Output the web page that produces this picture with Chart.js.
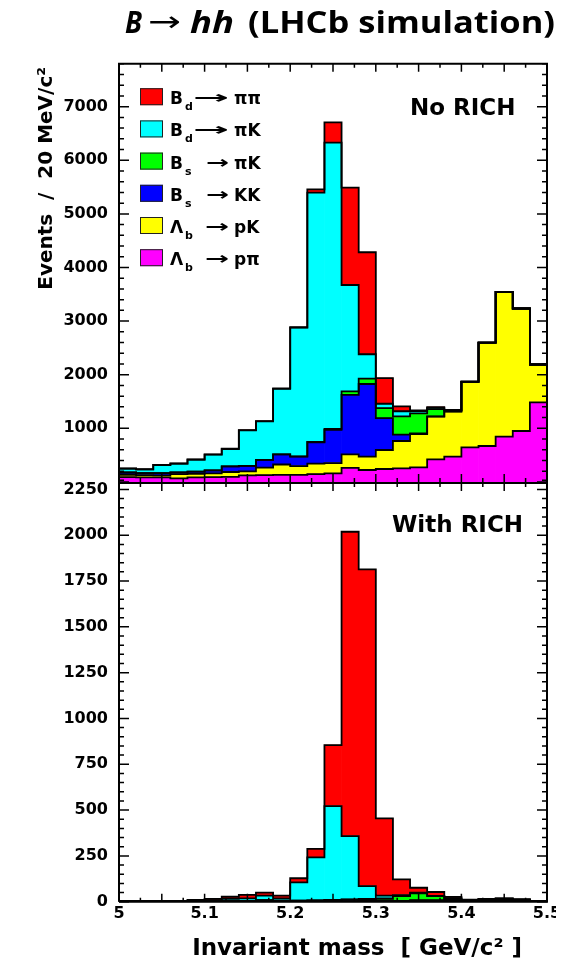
<!DOCTYPE html>
<html>
<head>
<meta charset="utf-8">
<script src="https://cdn.jsdelivr.net/npm/chart.js@4/dist/chart.umd.min.js"></script>
<style>
  html, body { margin: 0; padding: 0; background: #fff; }
  #wrap { position: relative; width: 572px; height: 960px; overflow: hidden; }
  canvas { position: absolute; left: 0; top: 0; }
</style>
</head>
<body>
<div id="wrap">
  <canvas id="upper" width="572" height="960"></canvas>
  <canvas id="lower" width="556" height="960"></canvas>
</div>
<script>
// ---- binning: 20 MeV/c^2 bins from 5.00 to 5.50 GeV/c^2 ----
const binCentres = [5.01, 5.03, 5.05, 5.07, 5.09, 5.11, 5.13, 5.15, 5.17, 5.19,
                    5.21, 5.23, 5.25, 5.27, 5.29, 5.31, 5.33, 5.35, 5.37, 5.39,
                    5.41, 5.43, 5.45, 5.47, 5.49];
const halfBin = 0.01;
const binEdges = binCentres.map(c => +(c - halfBin).toFixed(2))
  .concat([+(binCentres[binCentres.length - 1] + halfBin).toFixed(2)]);

// ---- decay channels (legend order) ----
const decayParent    = ['B', 'B', 'B', 'B', 'Λ', 'Λ'];
const decayParentSub = ['d', 'd', 's', 's', 'b', 'b'];
const decayProducts  = ['ππ', 'πK', 'πK', 'KK', 'pK', 'pπ'];

// ---- events per bin, no RICH particle ID ----
const noRichBdPiPi = [3, 2, 3, 3, 4, 5, 5, 5, 6, 9, 8, 63, 381, 1816, 1903, 478, 90, 15, 15, 3, 0, 0, 0, 0, 0];
const noRichBdPiK  = [72, 69, 150, 163, 224, 292, 323, 661, 719, 1221, 2402, 4651, 5339, 1985, 456, 82, 94, 40, 21, 8, 0, 0, 0, 0, 0];
const noRichBsPiK  = [0, 0, 0, 0, 0, 0, 0, 0, 0, 0, 5, 5, 20, 63, 99, 186, 341, 373, 138, 15, 5, 0, 0, 0, 0];
const noRichBsKK   = [45, 40, 45, 32, 40, 55, 105, 105, 145, 190, 175, 400, 619, 1113, 1356, 595, 120, 13, 5, 5, 0, 0, 0, 0, 0];
const noRichLbPK   = [40, 40, 35, 80, 65, 70, 90, 75, 140, 195, 165, 195, 190, 250, 248, 354, 510, 622, 795, 839, 1220, 1930, 2701, 2285, 705];
const noRichLbPPi  = [90, 85, 85, 65, 85, 90, 95, 120, 125, 130, 130, 145, 160, 262, 222, 241, 253, 272, 421, 471, 645, 670, 844, 950, 1485];

// ---- events per bin, with RICH particle ID ----
const withRichBdPiPi = [2, 2, 2, 2, 4, 6, 12, 19, 16, 15, 22, 46, 333, 1661, 1729, 422, 86, 27, 21, 6, 2, 2, 2, 2, 1];
const withRichBdPiK  = [1, 1, 1, 1, 4, 6, 12, 13, 25, 12, 100, 235, 512, 345, 70, 15, 6, 3, 2, 3, 0, 0, 0, 0, 0];
const withRichBsPiK  = [0, 0, 0, 0, 0, 0, 0, 0, 0, 0, 0, 0, 0, 2, 5, 10, 25, 38, 22, 5, 2, 2, 2, 0, 0];
const withRichBsKK   = [0, 0, 0, 0, 0, 1, 1, 2, 3, 2, 3, 4, 5, 8, 6, 5, 3, 2, 2, 3, 0, 0, 0, 0, 0];
const withRichLbPK   = [0, 0, 0, 0, 1, 1, 1, 2, 2, 2, 2, 2, 3, 1, 1, 1, 1, 3, 3, 5, 4, 6, 6, 6, 2];
const withRichLbPPi  = [1, 1, 1, 1, 1, 1, 1, 1, 3, 2, 1, 1, 2, 2, 3, 2, 1, 3, 3, 4, 3, 5, 8, 5, 2];

// ---- axis ticks ----
const upperYTickValues = [1000, 2000, 3000, 4000, 5000, 6000, 7000];
const lowerYTickValues = [0, 250, 500, 750, 1000, 1250, 1500, 1750, 2000, 2250];
const massTickValues   = [5, 5.1, 5.2, 5.3, 5.4, 5.5];
const massTickLabels   = ['5', '5.1', '5.2', '5.3', '5.4', '5.5'];

// ---- styling ----
const channelColours = ['#ff0000', '#00ffff', '#00ff00', '#0000ff', '#ffff00', '#ff00ff'];
const stackOrder = [5, 4, 3, 2, 1, 0];   // bottom of the stack first
const rootFont = '"DejaVu Sans", "Liberation Sans", sans-serif';
const titleFont = '"Open Sans", Lato, sans-serif';

function channelName(k) {
  return decayParent[k] + decayParentSub[k] + ' → ' + decayProducts[k];
}

// Filled stacked bars plus a black step outline on top of every cumulative layer
function histogramDatasets(channels) {
  const datasets = [];
  stackOrder.forEach(k => {
    datasets.push({
      type: 'bar',
      label: channelName(k),
      data: channels[k].map((v, i) => ({ x: binCentres[i], y: v })),
      backgroundColor: channelColours[k],
      borderWidth: 0,
      stack: 'all',
      yAxisID: 'y',
      order: 2
    });
  });
  const cumulative = binCentres.map(() => 0);
  stackOrder.forEach(k => {
    channels[k].forEach((v, i) => { cumulative[i] += v; });
    const pts = [{ x: binEdges[0], y: 0 }];
    cumulative.forEach((c, i) => pts.push({ x: binEdges[i], y: c }));
    pts.push({ x: binEdges[binEdges.length - 1], y: cumulative[cumulative.length - 1] });
    pts.push({ x: binEdges[binEdges.length - 1], y: 0 });
    datasets.push({
      type: 'line',
      label: channelName(k) + ' outline',
      data: pts,
      borderColor: '#000',
      borderWidth: 1.8,
      stepped: true,
      fill: false,
      pointRadius: 0,
      pointHoverRadius: 0,
      yAxisID: 'yOutline',
      order: 1
    });
  });
  return datasets;
}

function stretchText(ctx, text, x, y, width) {
  const w = ctx.measureText(text).width;
  ctx.save();
  ctx.translate(x, y);
  ctx.scale(width / w, 1);
  ctx.textAlign = 'left';
  ctx.fillText(text, 0, 0);
  ctx.restore();
}

// Frame, inward tick marks on all sides, panel texts, legend and page title
const panelDecor = {
  id: 'panelDecor',
  afterDatasetsDraw(chart, args, o) {
    const { ctx, chartArea: a, scales } = chart;
    const xs = scales.x, ys = scales.y;
    ctx.save();
    ctx.strokeStyle = '#000';
    ctx.lineWidth = 1.5;
    ctx.beginPath();
    // mass ticks every 25 MeV, longer every 50 MeV
    for (let m = 0; m <= 20; m++) {
      const px = xs.getPixelForValue(5 + 0.025 * m);
      const len = m % 2 === 0 ? 8 : 4;
      const yb = o.tickBottom !== undefined ? o.tickBottom : a.bottom;
      ctx.moveTo(px, yb); ctx.lineTo(px, yb - len);
      ctx.moveTo(px, a.top); ctx.lineTo(px, a.top + len);
    }
    // event ticks
    const nMinor = Math.round(ys.max / o.yMinor);
    const perMajor = Math.round(o.yMajor / o.yMinor);
    for (let n = 0; n <= nMinor; n++) {
      const py = ys.getPixelForValue(n * o.yMinor);
      const len = n % perMajor === 0 ? 10 : 5;
      ctx.moveTo(a.left, py); ctx.lineTo(a.left + len, py);
      ctx.moveTo(a.right, py); ctx.lineTo(a.right - len, py);
    }
    ctx.stroke();

    // frame
    ctx.lineWidth = 2;
    ctx.beginPath();
    ctx.moveTo(a.left, o.frameBottom); ctx.lineTo(a.left, a.top); ctx.lineTo(a.right, a.top); ctx.lineTo(a.right, o.frameBottom);
    if (o.closeFrame) { ctx.lineTo(a.left, o.frameBottom); }
    ctx.stroke();

    // panel tag
    ctx.fillStyle = '#000';
    ctx.textBaseline = 'alphabetic';
    ctx.textAlign = 'left';
    ctx.font = 'bold 23px ' + rootFont;
    ctx.fillText(o.tag, o.tagX, o.tagY);

    if (o.yTitle) {
      ctx.save();
      ctx.translate(52, 67);
      ctx.rotate(-Math.PI / 2);
      ctx.textAlign = 'right';
      ctx.font = 'bold 20px ' + rootFont;
      ctx.fillText(o.yTitle, 0, 0);
      ctx.restore();
    }
    if (o.xTitle) {
      ctx.textAlign = 'right';
      ctx.font = 'bold 23px ' + rootFont;
      ctx.fillText(o.xTitle, 522, 955);
      ctx.textAlign = 'left';
    }

    if (o.legend) {
      const arrowStart = [193, 193, 206, 206, 205, 205];
      for (let k = 0; k < decayParent.length; k++) {
        const yc = 96.7 + k * 32.2;
        ctx.fillStyle = channelColours[k];
        ctx.fillRect(140, yc - 8.5, 23, 17);
        ctx.lineWidth = 1;
        ctx.strokeStyle = '#222';
        ctx.strokeRect(140.5, yc - 8, 22, 16);
        ctx.fillStyle = '#000';
        const base = yc + 7.5;
        ctx.font = 'bold 17px ' + rootFont;
        ctx.fillText(decayParent[k], 170, base);
        ctx.font = 'bold 11px ' + rootFont;
        ctx.fillText(decayParentSub[k], 185, base + 6);
        ctx.font = 'bold 17px ' + rootFont;
        stretchText(ctx, '→', arrowStart[k], base - 1, 229 - arrowStart[k]);
        ctx.fillText(decayProducts[k], 234, base);
      }
    }

    if (o.pageTitle) {
      const base = 33;
      ctx.fillStyle = '#000';
      ctx.font = 'italic bold 31px ' + titleFont;
      stretchText(ctx, 'B', 125, base, 17);
      ctx.font = '28px "DejaVu Sans", sans-serif';
      stretchText(ctx, '→', 148, base - 2, 33);
      ctx.font = 'italic bold 31px ' + titleFont;
      stretchText(ctx, 'hh', 190, base, 44);
      ctx.font = 'bold 31px ' + titleFont;
      stretchText(ctx, '(LHCb simulation)', 248, base, 307);
    }
    ctx.restore();
  }
};

function yAxis(max, tickValues, hideZero) {
  return {
    type: 'linear',
    stacked: true,
    min: 0,
    max: max,
    afterBuildTicks: s => { s.ticks = tickValues.map(v => ({ value: v })); },
    ticks: {
      color: '#000',
      font: { family: rootFont, size: 16, weight: 'bold' },
      padding: 11,
      autoSkip: false,
      callback: v => (hideZero && v === 0) ? '' : String(v)
    },
    grid: { display: false, drawTicks: false },
    border: { display: false },
    afterFit: s => { s.width = 119; s.paddingTop = 0; s.paddingBottom = 0; }
  };
}

const commonPlugins = { legend: { display: false }, tooltip: { enabled: false } };

new Chart(document.getElementById('upper'), {
  type: 'bar',
  data: { datasets: histogramDatasets([noRichBdPiPi, noRichBdPiK, noRichBsPiK, noRichBsKK, noRichLbPK, noRichLbPPi]) },
  options: {
    responsive: false,
    animation: false,
    devicePixelRatio: 1,
    barPercentage: 1,
    categoryPercentage: 1,
    layout: { padding: { top: 63.8, right: 25, bottom: 960 - 481.9, left: 0 } },
    plugins: Object.assign({}, commonPlugins, {
      panelDecor: {
        yMinor: 200, yMajor: 1000, tickBottom: 482, frameBottom: 483, closeFrame: false,
        tag: 'No RICH', tagX: 410, tagY: 115,
        yTitle: 'Events  /  20 MeV/c²', legend: true, pageTitle: true
      }
    }),
    scales: {
      x: { type: 'linear', min: 5, max: 5.5, offset: false, display: false },
      y: yAxis(7800, upperYTickValues, true),
      yOutline: { type: 'linear', display: false, min: 0, max: 7800 }
    }
  },
  plugins: [panelDecor]
});

new Chart(document.getElementById('lower'), {
  type: 'bar',
  data: { datasets: histogramDatasets([withRichBdPiPi, withRichBdPiK, withRichBsPiK, withRichBsKK, withRichLbPK, withRichLbPPi]) },
  options: {
    responsive: false,
    animation: false,
    devicePixelRatio: 1,
    barPercentage: 1,
    categoryPercentage: 1,
    layout: { padding: { top: 483, right: 9, bottom: 0, left: 0 } },
    plugins: Object.assign({}, commonPlugins, {
      panelDecor: {
        yMinor: 50, yMajor: 250, frameBottom: 901.7, closeFrame: true,
        tag: 'With RICH', tagX: 392, tagY: 532,
        xTitle: 'Invariant mass  [ GeV/c² ]'
      }
    }),
    scales: {
      x: {
        type: 'linear', min: 5, max: 5.5, offset: false,
        afterBuildTicks: s => { s.ticks = massTickValues.map(v => ({ value: v })); },
        ticks: {
          color: '#000',
          font: { family: rootFont, size: 16, weight: 'bold' },
          padding: 3,
          autoSkip: false,
          maxRotation: 0,
          callback: (v, i) => massTickLabels[i]
        },
        grid: { display: false, drawTicks: false },
        border: { display: false },
        afterFit: s => { s.height = 960 - 901.7; s.paddingLeft = 0; s.paddingRight = 0; }
      },
      y: yAxis(2285, lowerYTickValues, false),
      yOutline: { type: 'linear', display: false, min: 0, max: 2285 }
    }
  },
  plugins: [panelDecor]
});
</script>
</body>
</html>
